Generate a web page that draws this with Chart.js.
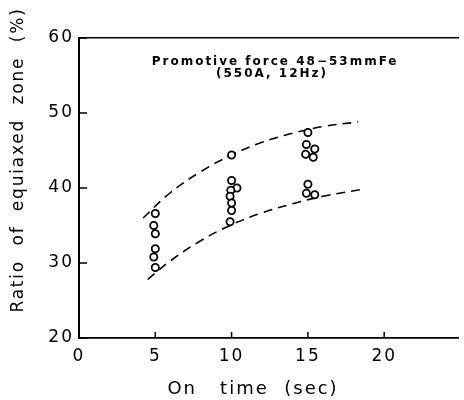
<!DOCTYPE html>
<html>
<head>
<meta charset="utf-8">
<script src="https://cdn.jsdelivr.net/npm/chart.js@4"></script>
<style>
  html, body { margin: 0; padding: 0; background: #fff; }
  #wrap { width: 464px; height: 400px; }
</style>
</head>
<body>
<div id="wrap"><canvas id="chart"></canvas></div>
<script>
// measured points: on time (sec) and ratio of equiaxed zone (%)
const onTime = [5, 4.9, 5, 5, 4.9, 5,
  10, 10, 10.35, 9.95, 9.9, 10, 10, 9.9,
  15, 14.9, 15.45, 14.85, 15.35, 15, 14.9, 15.45];
const ratio = [36.6, 35.0, 33.9, 31.9, 30.8, 29.4,
  44.4, 41.0, 40.0, 39.7, 38.9, 38.0, 37.0, 35.5,
  47.4, 45.8, 45.2, 44.5, 44.1, 40.5, 39.3, 39.1];

// dashed envelope curves
const upperX = [4.2, 6, 8, 10, 12, 14, 16, 18.3];
const upperY = [36.0, 39.4, 42.2, 44.4, 46.1, 47.3, 48.2, 48.8];
const lowerX = [4.5, 6, 8, 10, 12, 14, 16, 18.5];
const lowerY = [27.8, 30.3, 33.0, 35.1, 36.7, 37.9, 38.9, 39.8];

// axes
const xTicks = [0, 5, 10, 15, 20];
const yTicks = [20, 30, 40, 50, 60];
const xTitle = "On   time  (sec)";
const yTitle = "Ratio  of  equiaxed  zone  (%)";
const noteLines = ["Promotive force 48\u221253mmFe", "(550A, 12Hz)"];

const toPoints = (xs, ys) => xs.map((v, i) => ({ x: v, y: ys[i] }));

// inward tick marks, titles and the note inside the plot
const textPlugin = {
  id: "textPlugin",
  beforeDraw(chart) {
    chart.ctx.letterSpacing = "2px";
  },
  afterDraw(chart) {
    const ctx = chart.ctx;
    const { x, y } = chart.scales;
    const area = chart.chartArea;
    ctx.save();

    // ticks pointing into the plot
    ctx.strokeStyle = "#000";
    ctx.lineWidth = 1.5;
    ctx.beginPath();
    x.ticks.forEach((t) => {
      const px = x.getPixelForValue(t.value);
      ctx.moveTo(px, area.bottom);
      ctx.lineTo(px, area.bottom - 6);
    });
    y.ticks.forEach((t) => {
      const py = y.getPixelForValue(t.value);
      ctx.moveTo(area.left, py);
      ctx.lineTo(area.left + 8, py);
    });
    ctx.stroke();

    ctx.fillStyle = "#000";
    ctx.textAlign = "center";
    ctx.textBaseline = "middle";

    // note
    ctx.font = 'bold 12px "DejaVu Sans"';
    ctx.letterSpacing = "2px";
    ctx.fillText(noteLines[0], x.getPixelForValue(12.85), y.getPixelForValue(56.8));
    ctx.fillText(noteLines[1], x.getPixelForValue(12.65), y.getPixelForValue(55.2));

    // x title
    ctx.font = '18px "DejaVu Sans"';
    ctx.letterSpacing = "2px";
    ctx.fillText(xTitle, 253, 389);

    // y title
    ctx.font = '17px "DejaVu Sans"';
    ctx.letterSpacing = "1.8px";
    ctx.translate(19, 160);
    ctx.rotate(-Math.PI / 2);
    ctx.fillText(yTitle, 0, 0);
    ctx.restore();
  },
};

const ctx = document.getElementById("chart").getContext("2d");

new Chart(ctx, {
  type: "scatter",
  data: {
    datasets: [
      {
        label: "measured",
        data: toPoints(onTime, ratio),
        pointStyle: "circle",
        pointRadius: 3.6,
        borderWidth: 1.8,
        borderColor: "#000",
        backgroundColor: "#fff",
        showLine: false,
      },
      {
        label: "upper",
        data: toPoints(upperX, upperY),
        showLine: true,
        borderColor: "#000",
        borderWidth: 1.6,
        borderDash: [9, 6],
        pointRadius: 0,
        tension: 0.4,
        fill: false,
      },
      {
        label: "lower",
        data: toPoints(lowerX, lowerY),
        showLine: true,
        borderColor: "#000",
        borderWidth: 1.6,
        borderDash: [9, 6],
        pointRadius: 0,
        tension: 0.4,
        fill: false,
      },
    ],
  },
  options: {
    responsive: true,
    maintainAspectRatio: false,
    animation: false,
    layout: { padding: 0 },
    plugins: {
      legend: { display: false },
      tooltip: { enabled: false },
    },
    scales: {
      x: {
        type: "linear",
        position: "bottom",
        min: 0,
        max: 24.85,
        afterBuildTicks: (s) => { s.ticks = xTicks.map((v) => ({ value: v })); },
        afterFit: (s) => { s.height = 62; },
        border: { display: true, color: "#000", width: 1.8 },
        grid: { drawOnChartArea: false, drawTicks: false },
        ticks: {
          color: "#000",
          padding: 8,
          maxRotation: 0,
          autoSkip: false,
          font: { family: "DejaVu Sans", size: 17 },
        },
      },
      x2: {
        type: "linear",
        position: "top",
        min: 0,
        max: 24.85,
        afterFit: (s) => { s.height = 38; },
        border: { display: true, color: "#000", width: 1.6 },
        grid: { display: false, drawTicks: false },
        ticks: { display: false },
      },
      y: {
        type: "linear",
        position: "left",
        min: 20,
        max: 60,
        afterBuildTicks: (s) => { s.ticks = yTicks.map((v) => ({ value: v })); },
        afterFit: (s) => { s.width = 79; },
        border: { display: true, color: "#000", width: 2 },
        grid: { drawOnChartArea: false, drawTicks: false },
        ticks: {
          color: "#000",
          padding: 5,
          font: { family: "DejaVu Sans", size: 17 },
        },
      },
    },
  },
  plugins: [textPlugin],
});
</script>
</body>
</html>
